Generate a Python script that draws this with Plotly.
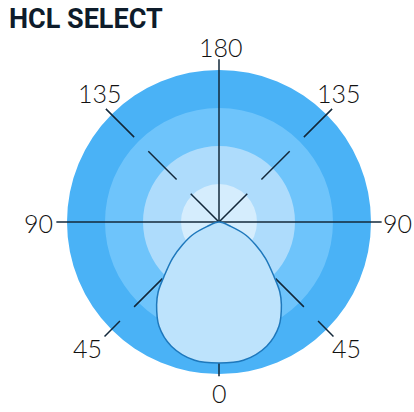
import plotly.graph_objects as go

# ---- data ----
ring_levels = [100, 75, 50, 25]
ring_colors = ["#4AB2F6", "#6EC4FB", "#AEDCFC", "#D5EDFD"]

shape_theta = [-74, -69, -64, -58, -52, -45, -41, -37, -30, -21, -10, 0,
               10, 21, 30, 37, 41, 45, 52, 58, 64, 69, 74]
shape_r = [0, 8.6, 19.5, 28.3, 38.8, 51.5, 61.0, 68.2, 79.0, 87.5, 92.4, 92.8,
           92.4, 87.5, 79.0, 68.2, 61.0, 51.5, 38.8, 28.3, 19.5, 8.6, 0]

label_text = ["180", "135", "135", "90", "90", "45", "45", "0"]
label_x = [221, 99.5, 339, 38.5, 397.5, 87.5, 346, 219.5]
label_y = [46.5, 92.5, 92.5, 223, 223, 347.5, 348, 393]

W, H = 414, 412
CX, CY = 219, 222
RMAX = 108
PX_PER_UNIT = 1.52
RPX = RMAX * PX_PER_UNIT

fig = go.Figure()

for lvl, col in zip(ring_levels, ring_colors):
    fig.add_trace(go.Barpolar(r=[lvl], theta=[0], width=[360], base=0,
                              marker=dict(color=col, line=dict(width=0)),
                              hoverinfo="skip", showlegend=False))

line_col = "#13283A"
fig.add_trace(go.Scatterpolar(r=[107, 0, 107], theta=[90, 0, 270], mode="lines",
                              line=dict(color=line_col, width=1.5),
                              hoverinfo="skip", showlegend=False))
fig.add_trace(go.Scatterpolar(r=[107, 0, 101.5], theta=[180, 0, 0], mode="lines",
                              line=dict(color=line_col, width=1.5),
                              hoverinfo="skip", showlegend=False))
for th, r0 in [(225, 0), (135, 0), (315, 13.2), (45, 13.2)]:
    fig.add_trace(go.Scatterpolar(r=[r0, 106.5], theta=[th, th], mode="lines",
                                  line=dict(color=line_col, width=1.5, dash="40px,20px"),
                                  hoverinfo="skip", showlegend=False))

fig.add_trace(go.Scatterpolar(r=shape_r, theta=shape_theta, mode="lines",
                              fill="toself", fillcolor="#BDE3FC",
                              line=dict(color="#1E78BC", width=1.5, shape="spline"),
                              hoverinfo="skip", showlegend=False))

annotations = []
for t, x, y in zip(label_text, label_x, label_y):
    annotations.append(dict(text=t, x=x / W, y=1 - y / H, xref="paper", yref="paper",
                            xanchor="center", yanchor="middle", showarrow=False,
                            font=dict(family="Lato", size=25, color="#111111", weight=300)))
annotations.append(dict(text="HCL SELECT", x=7 / W, y=1 - 18.5 / H, xref="paper", yref="paper",
                        xanchor="left", yanchor="middle", showarrow=False,
                        font=dict(family="Roboto", size=27, color="#0E1C2B", weight=700)))

fig.update_layout(
    width=W, height=H,
    margin=dict(l=0, r=0, t=0, b=0),
    paper_bgcolor="white",
    showlegend=False,
    barmode="overlay",
    annotations=annotations,
    polar=dict(
        domain=dict(x=[(CX - RPX) / W, (CX + RPX) / W],
                    y=[(H - CY - RPX) / H, (H - CY + RPX) / H]),
        bgcolor="rgba(0,0,0,0)",
        radialaxis=dict(range=[0, RMAX], visible=False),
        angularaxis=dict(visible=False, rotation=270, direction="clockwise"),
        barmode="overlay",
    ),
)

fig.write_html("out.html", config={"displayModeBar": False},
               post_script="document.body.style.margin='0';document.body.style.overflow='hidden';")
